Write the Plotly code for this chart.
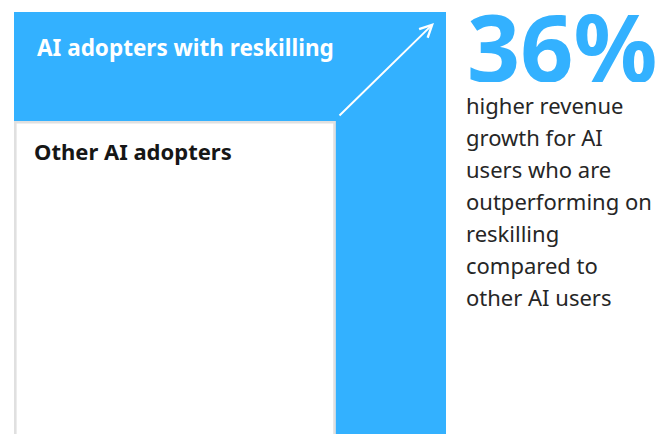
import plotly.graph_objects as go

# ---- data ----
groups = ["AI adopters with reskilling", "Other AI adopters"]
revenue_index = [136, 100]          # other AI adopters = 100, reskilling = +36%
headline = "36%"
body_lines = ["higher revenue", "growth for AI", "users who are",
              "outperforming on", "reskilling", "compared to", "other AI users"]

BLUE = "#33b1ff"
DARK = "#161616"
W, H = 670, 434

# axis mapping (layout)
x0 = -14 / 432
x1 = x0 + W / 432
px_per_unit = 3.064
ymax = revenue_index[0] + 12 / px_per_unit
ymin = ymax - H / px_per_unit
BASE = -10

def xd(px):
    return x0 + px / W * (x1 - x0)

def yd(py):
    return ymax - py / px_per_unit

fig = go.Figure()
fig.add_trace(go.Bar(
    x=[0], y=[revenue_index[0] - BASE], base=[BASE], width=[1.0], offset=0,
    marker=dict(color=BLUE, line=dict(width=0)), hoverinfo="skip", name=groups[0]))
fig.add_trace(go.Bar(
    x=[0], y=[revenue_index[1] - BASE], base=[BASE], width=[0.739], offset=0.003,
    marker=dict(color="white", line=dict(color="#e0e0e0", width=2.6)),
    hoverinfo="skip", name=groups[1]))

ann = []
ann.append(dict(xref="paper", yref="paper", x=35 / W, y=1 - 48 / H, xanchor="left", yanchor="middle",
                text="<b>" + groups[0] + "</b>", showarrow=False,
                font=dict(family="Noto Sans", size=22.5, color="white")))
ann.append(dict(xref="paper", yref="paper", x=32 / W, y=1 - 151 / H, xanchor="left", yanchor="middle",
                text="<b>" + groups[1] + "</b>", showarrow=False,
                font=dict(family="Noto Sans", size=22, color=DARK)))
# arrow
ann.append(dict(x=xd(434), y=yd(23), ax=xd(338), ay=yd(117), xref="x", yref="y", axref="x", ayref="y",
                showarrow=True, arrowhead=5, arrowsize=1.2, arrowwidth=2, arrowcolor="white", text=""))
# headline
ann.append(dict(xref="paper", yref="paper", x=465 / W, y=1 - 46 / H, xanchor="left", yanchor="middle",
                height=72, valign="middle",
                text="<b>" + headline + "</b>", showarrow=False,
                font=dict(family="Noto Sans", size=93, color=BLUE)))
for i, line in enumerate(body_lines):
    base_y = 112 + i * 32
    ann.append(dict(xref="paper", yref="paper", x=464 / W, y=1 - (base_y - 7) / H,
                    xanchor="left", yanchor="middle", text=line, showarrow=False,
                    font=dict(family="Noto Sans", size=22, color="#262626")))

fig.update_layout(
    width=W, height=H, margin=dict(l=0, r=0, t=0, b=0),
    paper_bgcolor="white", plot_bgcolor="white",
    barmode="overlay", showlegend=False,
    xaxis=dict(range=[x0, x1], visible=False, fixedrange=True),
    yaxis=dict(range=[ymin, ymax], visible=False, fixedrange=True),
    annotations=ann,
)
fig.write_html("out.html", config={"displayModeBar": False})
